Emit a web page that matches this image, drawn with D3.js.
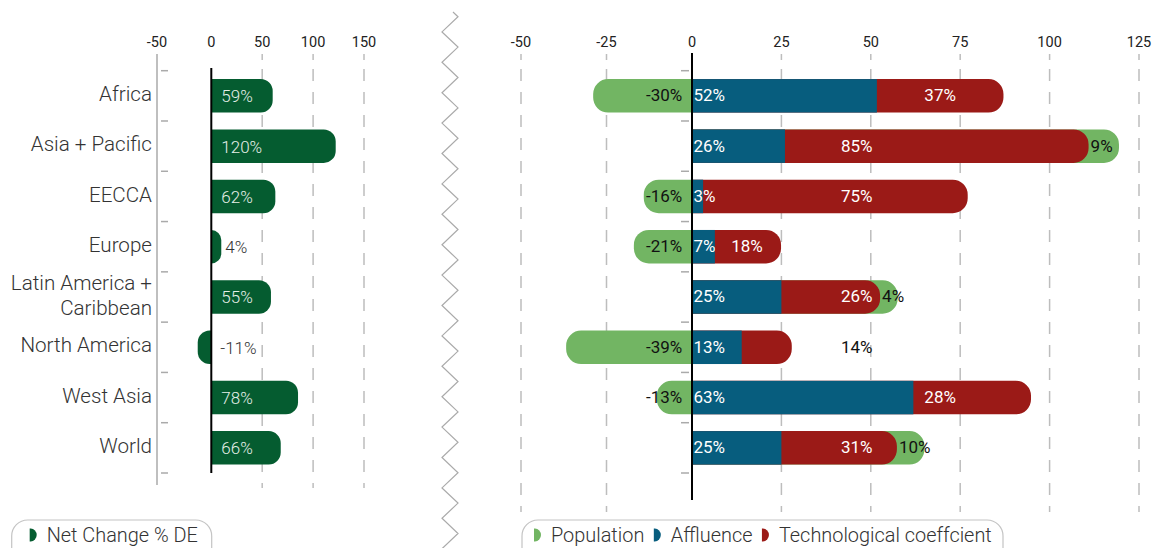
<!DOCTYPE html>
<html>
<head>
<meta charset="utf-8">
<script src="https://cdn.jsdelivr.net/npm/d3@7"></script>
<style>
  body { margin: 0; background: #fff; }
  svg { font-family: Roboto, "Noto Sans", sans-serif; }
</style>
</head>
<body>
<svg id="chart" width="1157" height="548"></svg>
<script>
// dati
const regions = ['Africa', 'Asia + Pacific', 'EECCA', 'Europe', 'Latin America +\nCaribbean',
                 'North America', 'West Asia', 'World'];

// pannello sinistro: variazione netta % DE
const netChange = [60.3, 122.2, 62.9, 9.8, 58.6, -12.5, 85.2, 68.2];
const netLabels = ['59%', '120%', '62%', '4%', '55%', '-11%', '78%', '66%'];
const leftTicks = [-50, 0, 50, 100, 150];

// pannello destro: scomposizione
const population = [-28.9, 8.5, -14.1, -17.0, 4.9, -36.8, -10.3, 7.7];
const affluence = [51.7, 26.0, 3.1, 6.4, 25.0, 13.9, 61.9, 25.0];
const technology = [35.4, 84.9, 74.0, 18.5, 27.6, 14.0, 32.9, 32.3];
const popLabels = ['-30%', '9%', '-16%', '-21%', '4%', '-39%', '-13%', '10%'];
const affLabels = ['52%', '26%', '3%', '7%', '25%', '13%', '63%', '25%'];
const techLabels = ['37%', '85%', '75%', '18%', '26%', '14%', '28%', '31%'];
const techLabelAt = [73.8, 50.5, 50.5, 19.8, 50.5, 50.5, 73.8, 50.5];
const rightTicks = [-50, -25, 0, 25, 50, 75, 100, 125];

const COLORS = {
    net: '#055c30',
    population: '#72b563',
    affluence: '#075d7e',
    technology: '#9b1a17',
    grid: '#bdbdbd',
    text: '#333'
};

const svg = d3.select('#chart');

// scale
const y = d3.scaleBand()
    .domain(regions)
    .range([70.7, 473])
    .paddingInner(0.334)
    .paddingOuter(0.167);
const bh = y.bandwidth();

const xL = d3.scaleLinear().domain([-50, 0, 150]).range([157, 211.3, 364]);
const xR = d3.scaleLinear().domain([-50, 0, 125]).range([521, 692, 1139]);

// barra con un solo lato arrotondato (x1)
function pill(x0, x1, top, h, r) {
    const dir = x1 >= x0 ? 1 : -1;
    r = Math.min(r, Math.abs(x1 - x0), h / 2);
    const p = d3.path();
    p.moveTo(x0, top);
    p.lineTo(x1 - dir * r, top);
    p.arcTo(x1, top, x1, top + r, r);
    p.lineTo(x1, top + h - r);
    p.arcTo(x1, top + h, x1 - dir * r, top + h, r);
    p.lineTo(x0, top + h);
    p.closePath();
    return p.toString();
}

// griglia tratteggiata + etichette in alto
function gridAndTicks(x, ticks, yBottom, skip) {
    const g = svg.append('g');
    g.selectAll('line')
        .data(ticks.filter(t => !skip.includes(t)))
        .join('line')
        .attr('x1', d => x(d)).attr('x2', d => x(d))
        .attr('y1', 54).attr('y2', yBottom)
        .attr('stroke', COLORS.grid)
        .attr('stroke-width', 1.5)
        .attr('stroke-dasharray', '6,9,12,11,12,11,12,11,12,11,12,11,12,11,12,11,12,11,12,11,12,11,12,11,12,11,12,11,12,11,12,11,12,11,12,11,12,11,12,11');
    g.selectAll('text')
        .data(ticks)
        .join('text')
        .attr('x', d => x(d))
        .attr('y', 46.7)
        .attr('text-anchor', 'middle')
        .attr('font-size', 14.5)
        .attr('fill', '#222')
        .text(d => d);
}

// tacche dell'asse y ai bordi delle bande
function bandTicks(x1, x2) {
    svg.append('g')
        .selectAll('line')
        .data(d3.range(regions.length + 1))
        .join('line')
        .attr('x1', x1).attr('x2', x2)
        .attr('y1', i => y.range()[0] + i * y.step())
        .attr('y2', i => y.range()[0] + i * y.step())
        .attr('stroke', '#aaa')
        .attr('stroke-width', 1.5);
}

// ---------- pannello sinistro ----------
gridAndTicks(xL, leftTicks, 488, [-50, 0]);

svg.append('line')
    .attr('x1', xL(-50)).attr('x2', xL(-50))
    .attr('y1', 54).attr('y2', 485)
    .attr('stroke', '#aaa').attr('stroke-width', 1.5);

bandTicks(xL(-50) + 4, xL(-50) + 11);

// etichette delle regioni
svg.append('g')
    .selectAll('text')
    .data(regions)
    .join('text')
    .attr('text-anchor', 'end')
    .attr('font-size', 20.6)
    .attr('font-weight', 300)
    .attr('fill', COLORS.text)
    .each(function(d) {
        const lines = d.split('\n');
        const cy = y(d) + bh / 2;
        d3.select(this).selectAll('tspan')
            .data(lines)
            .join('tspan')
            .attr('x', 152)
            .attr('y', (l, i) => cy + (i - (lines.length - 1) / 2) * 25)
            .attr('dy', '0.25em')
            .text(l => l);
    });

svg.append('g')
    .selectAll('path')
    .data(regions)
    .join('path')
    .attr('d', (d, i) => pill(xL(0), xL(netChange[i]), y(d), bh, 12))
    .attr('fill', COLORS.net);

svg.append('g')
    .selectAll('text')
    .data(regions)
    .join('text')
    .attr('font-size', 17)
    .attr('font-weight', 300)
    .attr('y', d => y(d) + bh / 2)
    .attr('dy', '0.38em')
    .each(function(d, i) {
        const v = netChange[i];
        const inside = xL(v) - xL(0) > 40;
        const tx = inside ? xL(0) + 10 : (v > 0 ? xL(v) + 4 : xL(0) + 9);
        d3.select(this)
            .attr('x', tx)
            .attr('fill', inside ? '#e6efe8' : '#333')
            .text(netLabels[i]);
    });

svg.append('line')
    .attr('x1', xL(0)).attr('x2', xL(0))
    .attr('y1', 68).attr('y2', 473)
    .attr('stroke', '#000').attr('stroke-width', 2);

// ---------- separatore a zig zag ----------
const zig = [[453, 12]];
d3.range(0, 36).forEach(i => {
    zig.push([i % 2 === 0 ? 458 : 442, 16.7 + i * 15.2]);
});
svg.append('path')
    .attr('d', d3.line()(zig))
    .attr('fill', 'none')
    .attr('stroke', '#aaa')
    .attr('stroke-width', 1.2);

// ---------- pannello destro ----------
gridAndTicks(xR, rightTicks, 512, [0]);
bandTicks(xR(0) - 11, xR(0) - 3);

const rows = svg.append('g')
    .selectAll('g')
    .data(regions)
    .join('g');

// population (sotto), technological (in mezzo), affluence (sopra)
rows.append('path')
    .attr('d', (d, i) => {
        const p = population[i];
        const end = p < 0 ? p : affluence[i] + technology[i] + p;
        return pill(xR(0), xR(end), y(d), bh, 15);
    })
    .attr('fill', COLORS.population);

rows.append('path')
    .attr('d', (d, i) => pill(xR(0), xR(affluence[i] + technology[i]), y(d), bh, 15))
    .attr('fill', COLORS.technology);

rows.append('rect')
    .attr('x', xR(0))
    .attr('y', d => y(d))
    .attr('width', (d, i) => xR(affluence[i]) - xR(0))
    .attr('height', bh)
    .attr('fill', COLORS.affluence);

const lab = rows.append('g')
    .attr('font-size', 17)
    .attr('transform', d => `translate(0,${y(d) + bh / 2})`);

lab.append('text')
    .attr('x', xR(0) + 1.5)
    .attr('dy', '0.32em')
    .attr('fill', '#fff')
    .text((d, i) => affLabels[i]);

lab.append('text')
    .attr('x', (d, i) => xR(techLabelAt[i]))
    .attr('dy', '0.32em')
    .attr('text-anchor', 'end')
    .attr('fill', (d, i) => techLabelAt[i] <= affluence[i] + technology[i] ? '#fff' : '#111')
    .text((d, i) => techLabels[i]);

lab.append('text')
    .attr('x', (d, i) => population[i] < 0 ? xR(0) - 9.7 : xR(affluence[i] + technology[i]) + 2)
    .attr('dy', '0.32em')
    .attr('text-anchor', (d, i) => population[i] < 0 ? 'end' : 'start')
    .attr('fill', '#111')
    .text((d, i) => popLabels[i]);

svg.append('line')
    .attr('x1', xR(0)).attr('x2', xR(0))
    .attr('y1', 53).attr('y2', 500)
    .attr('stroke', '#000').attr('stroke-width', 2);

// ---------- legende ----------
function legend(x, width, items) {
    const g = svg.append('g');
    g.append('rect')
        .attr('x', x).attr('y', 520)
        .attr('width', width).attr('height', 44)
        .attr('rx', 16)
        .attr('fill', '#fff')
        .attr('stroke', '#c4c4c4')
        .attr('stroke-width', 1.2);
    let cx = x + items.pad;
    items.list.forEach(it => {
        g.append('path')
            .attr('d', `M${cx},528.5 h1 a6,6.5 0 0 1 0,13 h-1 Z`)
            .attr('fill', it.color);
        const t = g.append('text')
            .attr('x', cx + 17)
            .attr('y', 541.7)
            .attr('font-size', 19.9)
            .attr('font-weight', 300)
            .attr('fill', COLORS.text)
            .text(it.label);
        cx += 17 + t.node().getComputedTextLength() + 9.5;
    });
}

legend(11.7, 200, { pad: 18, list: [{ label: 'Net Change % DE', color: COLORS.net }] });
legend(522, 481, { pad: 12, list: [
    { label: 'Population', color: COLORS.population },
    { label: 'Affluence', color: COLORS.affluence },
    { label: 'Technological coeffcient', color: COLORS.technology }
] });
</script>
</body>
</html>
